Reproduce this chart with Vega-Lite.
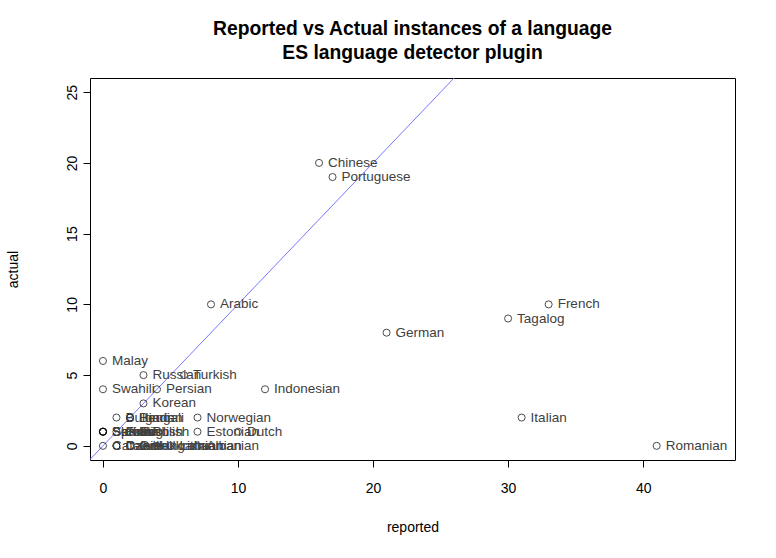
{
  "$schema": "https://vega.github.io/schema/vega-lite/v6.json",
  "width": 645,
  "height": 382,
  "autosize": {"type": "none"},
  "padding": {"left": 90, "top": 78, "right": 41, "bottom": 98},
  "background": "white",
  "config": {
    "font": "Liberation Sans",
    "view": {"stroke": "black", "strokeWidth": 1},
    "axis": {"grid": false, "domain": false, "tickColor": "black", "tickSize": 7, "labelColor": "black", "titleColor": "black", "labelFontSize": 14, "titleFontSize": 14, "titleFontWeight": "normal", "labelFont": "Liberation Sans", "titleFont": "Liberation Sans"}
  },
  "title": {
    "text": ["Reported vs Actual instances of a language", "ES language detector plugin"],
    "fontSize": 19.3,
    "fontWeight": "bold",
    "font": "Liberation Sans",
    "color": "black",
    "anchor": "middle",
    "lineHeight": 24,
    "offset": 15
  },
  "datasets": {
    "langs": [
      {"language": "Chinese", "reported": 16, "actual": 20},
      {"language": "Portuguese", "reported": 17, "actual": 19},
      {"language": "Arabic", "reported": 8, "actual": 10},
      {"language": "French", "reported": 33, "actual": 10},
      {"language": "Tagalog", "reported": 30, "actual": 9},
      {"language": "German", "reported": 21, "actual": 8},
      {"language": "Malay", "reported": 0, "actual": 6},
      {"language": "Russian", "reported": 3, "actual": 5},
      {"language": "Turkish", "reported": 6, "actual": 5},
      {"language": "Swahili", "reported": 0, "actual": 4},
      {"language": "Persian", "reported": 4, "actual": 4},
      {"language": "Indonesian", "reported": 12, "actual": 4},
      {"language": "Korean", "reported": 3, "actual": 3},
      {"language": "Bulgarian", "reported": 1, "actual": 2},
      {"language": "Hindi", "reported": 2, "actual": 2},
      {"language": "Bengali", "reported": 2, "actual": 2},
      {"language": "Norwegian", "reported": 7, "actual": 2},
      {"language": "Italian", "reported": 31, "actual": 2},
      {"language": "Slovak", "reported": 0, "actual": 1},
      {"language": "Serbian", "reported": 0, "actual": 1},
      {"language": "Somali", "reported": 0, "actual": 1},
      {"language": "Spanish", "reported": 0, "actual": 1},
      {"language": "Finnish", "reported": 1, "actual": 1},
      {"language": "English", "reported": 2, "actual": 1},
      {"language": "Polish", "reported": 3, "actual": 1},
      {"language": "Estonian", "reported": 7, "actual": 1},
      {"language": "Dutch", "reported": 10, "actual": 1},
      {"language": "Catalan", "reported": 0, "actual": 0},
      {"language": "Czech", "reported": 1, "actual": 0},
      {"language": "Danish", "reported": 1, "actual": 0},
      {"language": "Greek", "reported": 2, "actual": 0},
      {"language": "Hungarian", "reported": 3, "actual": 0},
      {"language": "Ukrainian", "reported": 4, "actual": 0},
      {"language": "Lithuanian", "reported": 5, "actual": 0},
      {"language": "Albanian", "reported": 7, "actual": 0},
      {"language": "Romanian", "reported": 41, "actual": 0}
    ],
    "identity": [
      {"reported": -2, "actual": -2},
      {"reported": 30, "actual": 30}
    ]
  },
  "layer": [
    {
      "data": {"name": "identity"},
      "mark": {"type": "line", "color": "#7777ff", "strokeWidth": 1, "clip": true},
      "encoding": {
        "x": {"field": "reported", "type": "quantitative", "scale": {"domain": [-0.96, 46.8], "nice": false, "zero": false},
              "axis": {"values": [0, 10, 20, 30, 40], "title": "reported", "labelPadding": 14, "titlePadding": 25}},
        "y": {"field": "actual", "type": "quantitative", "scale": {"domain": [-1, 26], "nice": false, "zero": false},
              "axis": {"values": [0, 5, 10, 15, 20, 25], "title": "actual", "labelAngle": 270, "labelAlign": "center", "labelBaseline": "bottom", "labelPadding": 4, "titlePadding": 45}}
      }
    },
    {
      "data": {"name": "langs"},
      "mark": {"type": "point", "shape": "circle", "filled": false, "color": "black", "size": 50, "strokeWidth": 1},
      "encoding": {
        "x": {"field": "reported", "type": "quantitative"},
        "y": {"field": "actual", "type": "quantitative"}
      }
    },
    {
      "data": {"name": "langs"},
      "mark": {"type": "text", "align": "left", "baseline": "middle", "dx": 9, "fontSize": 13.5, "color": "#404040", "font": "Liberation Sans"},
      "encoding": {
        "x": {"field": "reported", "type": "quantitative"},
        "y": {"field": "actual", "type": "quantitative"},
        "text": {"field": "language"}
      }
    }
  ]
}
